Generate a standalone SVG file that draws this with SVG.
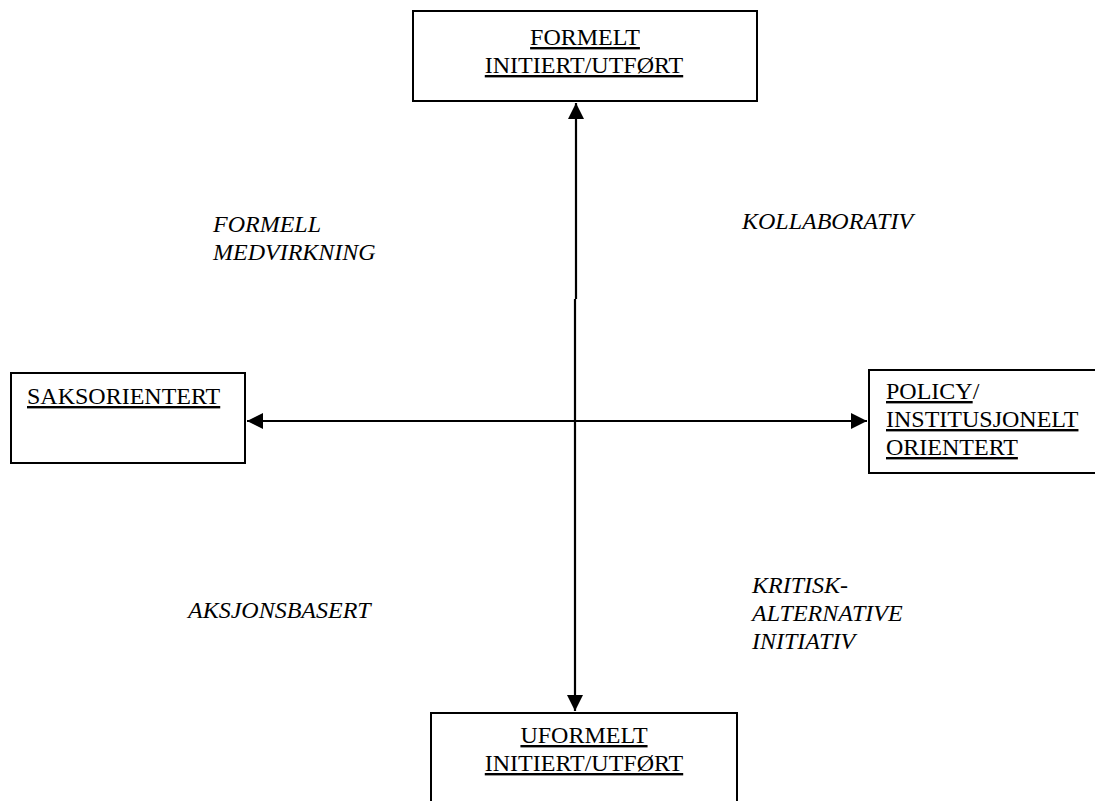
<svg xmlns="http://www.w3.org/2000/svg" width="1095" height="801" viewBox="0 0 1095 801">
  <style>
    .box { fill: #ffffff; stroke: #000000; stroke-width: 2; }
    .lbl { font-family: "Liberation Serif", "Times New Roman", serif; font-size: 24px; fill: #000000; }
    .u { text-decoration: underline; }
    .it { font-style: italic; }
    .axis { fill: none; stroke: #000000; stroke-width: 2.2; }
  </style>
  <defs>
    <marker id="arrow" markerUnits="userSpaceOnUse" markerWidth="18" markerHeight="18" viewBox="0 0 18 18" refX="16" refY="9" orient="auto-start-reverse">
      <path d="M0 1 L16 9 L0 17 Z" fill="#000000"/>
    </marker>
  </defs>

  <!-- axes -->
  <g id="connectors">
    <path class="axis" d="M576 103 L576 299 M575 299 L575 711" marker-start="url(#arrow)" marker-end="url(#arrow)"/>
    <path class="axis" d="M247 421 L867 421" marker-start="url(#arrow)" marker-end="url(#arrow)"/>
  </g>

  <g id="formelt">
    <rect class="box" x="413" y="11" width="344" height="90"/>
    <text class="lbl u" x="585" y="45" text-anchor="middle">FORMELT</text>
    <text class="lbl u" x="584" y="73" text-anchor="middle">INITIERT/UTFØRT</text>
  </g>

  <g id="uformelt">
    <rect class="box" x="431" y="713" width="306" height="100"/>
    <text class="lbl u" x="584" y="743" text-anchor="middle">UFORMELT</text>
    <text class="lbl u" x="584" y="771" text-anchor="middle">INITIERT/UTFØRT</text>
  </g>

  <g id="saksorientert">
    <rect class="box" x="11" y="373" width="234" height="90"/>
    <text class="lbl u" x="27" y="404">SAKSORIENTERT</text>
  </g>

  <g id="policy">
    <rect class="box" x="869" y="370" width="240" height="103"/>
    <text class="lbl" x="886" y="399"><tspan class="u">POLICY</tspan>/</text>
    <text class="lbl u" x="886" y="427">INSTITUSJONELT</text>
    <text class="lbl u" x="886" y="455">ORIENTERT</text>
  </g>

  <!-- quadrant labels -->
  <g id="quadrants">
    <text class="lbl it" x="213" y="232">FORMELL</text>
    <text class="lbl it" x="213" y="260">MEDVIRKNING</text>
    <text class="lbl it" x="742" y="229">KOLLABORATIV</text>
    <text class="lbl it" x="188" y="618">AKSJONSBASERT</text>
    <text class="lbl it" x="752" y="593">KRITISK-</text>
    <text class="lbl it" x="752" y="621">ALTERNATIVE</text>
    <text class="lbl it" x="752" y="649">INITIATIV</text>
  </g>
</svg>
